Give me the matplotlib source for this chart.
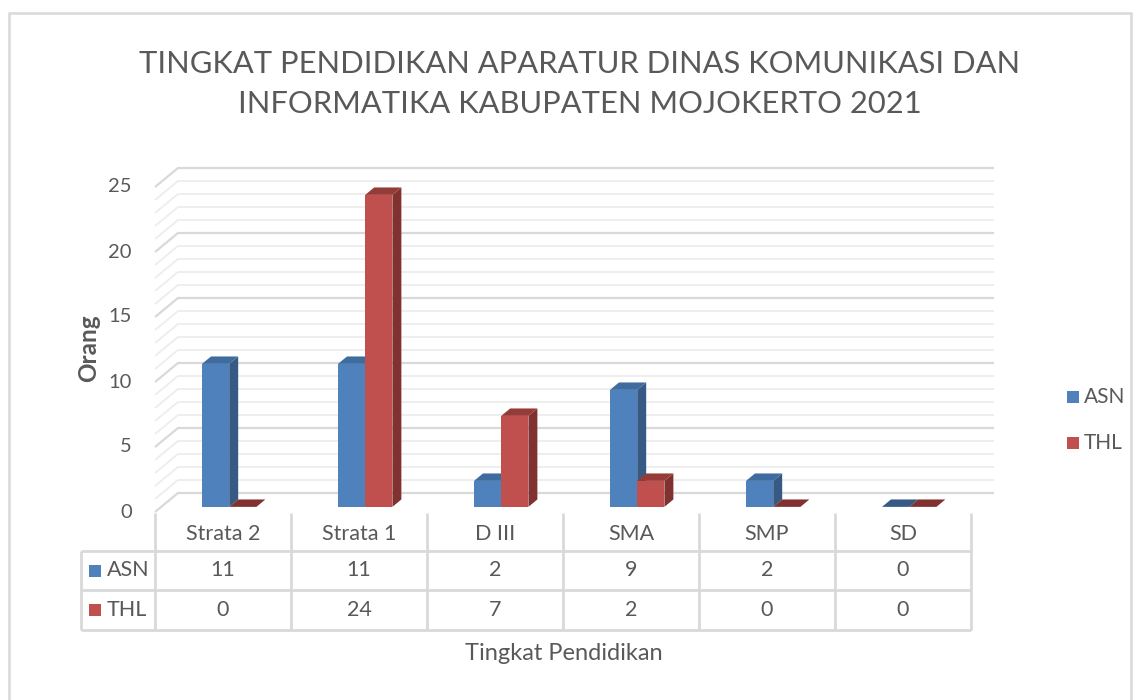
import matplotlib
matplotlib.use("Agg")
import matplotlib.pyplot as plt
from matplotlib.patches import Polygon, Rectangle
from matplotlib.transforms import blended_transform_factory

# ---------------- data ----------------
categories = ["Strata 2", "Strata 1", "D III", "SMA", "SMP", "SD"]
series_names = ["ASN", "THL"]
asn = [11, 11, 2, 9, 2, 0]
thl = [0, 24, 7, 2, 0, 0]
y_ticks = [0, 5, 10, 15, 20, 25]
title = "TINGKAT PENDIDIKAN APARATUR DINAS KOMUNIKASI DAN\nINFORMATIKA KABUPATEN MOJOKERTO 2021"
x_title = "Tingkat Pendidikan"
y_title = "Orang"

# ---------------- style ----------------
FONT = ["Lato", "DejaVu Sans"]
TXT = "#595959"
front_cols = ["#4F81BD", "#C0504D"]
side_cols = ["#375A84", "#803130"]
top_cols = ["#3F6C9F", "#953B38"]
GRID_MAJ = "#D9D9D9"
GRID_MIN = "#EDEDED"

W, H = 1140, 700
fig = plt.figure(figsize=(W / 100, H / 100), dpi=100)
fig.patch.set_facecolor("white")
ax = fig.add_axes([0, 0, 1, 1])
ax.axis("off")

# layout (pixels) -> data scale
X0_PX, CW_PX = 155.0, 136.0     # left of plot floor, width of one category
Y0_PX, U_PX = 512.0, 13.0       # front floor line, pixels per unit
ax.set_xlim(-X0_PX / CW_PX, (W - X0_PX) / CW_PX)
ax.set_ylim((Y0_PX - H) / U_PX, Y0_PX / U_PX)

DDX = 23.0 / CW_PX   # depth offset in x data units (full depth)
DDY = 19.0 / U_PX    # depth offset in y data units
n = len(categories)
ymax = 25

# ---- gridlines on side wall + back wall ----
for v in range(0, ymax + 1):
    major = (v % 5 == 0)
    col = GRID_MAJ if major else GRID_MIN
    lw = 1.6 if major else 1.3
    ax.plot([0, DDX, n + DDX], [v, v + DDY, v + DDY], color=col, lw=lw,
            solid_capstyle="butt", zorder=1 if major else 0.5)

# ---- 3D bars ----
bw = 0.2           # bar width in category units
d0, d1 = 0.27, 0.66  # depth range of bars
vals = [asn, thl]
for i in range(n):
    for j, sv in enumerate(vals):
        v = sv[i]
        xl = i + 0.5 - bw + j * bw + d0 * DDX
        xr = xl + bw
        yb = d0 * DDY
        yt = v + d0 * DDY
        ex = (d1 - d0) * DDX
        ey = (d1 - d0) * DDY
        z = 3 + i * 2 + j
        if v > 0:
            ax.add_patch(Polygon([(xl, yb), (xr, yb), (xr, yt), (xl, yt)],
                                 closed=True, fc=front_cols[j], ec="none", zorder=z))
            ax.add_patch(Polygon([(xr, yb), (xr + ex, yb + ey), (xr + ex, yt + ey), (xr, yt)],
                                 closed=True, fc=side_cols[j], ec="none", zorder=z))
        ax.add_patch(Polygon([(xl, yt), (xr, yt), (xr + ex, yt + ey), (xl + ex, yt + ey)],
                             closed=True, fc=top_cols[j] if v > 0 else side_cols[j],
                             ec="none", zorder=z))

# ---- y tick labels ----
for t in y_ticks:
    ax.text(-23 / CW_PX, t, str(t), ha="right", va="center", fontsize=14.5,
            color=TXT, family=FONT)

# ---- data table ----
bt = blended_transform_factory(ax.transData, fig.transFigure)
def fy(py):
    return 1 - py / H

row_top, row1, row2, row3 = 513, 551, 590, 630
left_px = 81
tbl_col = "#D9D9D9"
left_x = (left_px - X0_PX) / CW_PX
for k in range(n + 1):
    ax.plot([k, k], [fy(row_top), fy(row3)], color=tbl_col, lw=2, transform=bt,
            solid_capstyle="butt", clip_on=False)
for ry in (row1, row2, row3):
    ax.plot([left_x, n], [fy(ry), fy(ry)], color=tbl_col, lw=2, transform=bt,
            solid_capstyle="butt", clip_on=False)
ax.plot([left_x, left_x], [fy(row1), fy(row3)], color=tbl_col, lw=2, transform=bt,
        solid_capstyle="butt", clip_on=False)

TFS = 15.5
for i, c in enumerate(categories):
    ax.text(i + 0.5, fy((row_top + row1) / 2 + 2), c, ha="center", va="center",
            fontsize=TFS, color=TXT, family=FONT, transform=bt)
for j, (name, sv) in enumerate(zip(series_names, vals)):
    ry = [(row1 + row2) / 2, (row2 + row3) / 2][j]
    for i, v in enumerate(sv):
        ax.text(i + 0.5, fy(ry), str(v), ha="center", va="center",
                fontsize=TFS, color=TXT, family=FONT, transform=bt)
    fig.add_artist(Rectangle((89 / W, fy(ry + 6)), 12 / W, 12 / H,
                             transform=fig.transFigure, fc=front_cols[j], ec="none"))
    fig.text(107 / W, fy(ry), name, ha="left", va="center", fontsize=TFS,
             color=TXT, family=FONT)

# ---- legend (right) ----
for j, name in enumerate(series_names):
    cy = [397, 443][j]
    fig.add_artist(Rectangle((1067 / W, fy(cy + 6)), 12 / W, 12 / H,
                             transform=fig.transFigure, fc=front_cols[j], ec="none"))
    fig.text(1084 / W, fy(cy), name, ha="left", va="center", fontsize=15,
             color=TXT, family=FONT)

# ---- titles ----
fig.text(580 / W, fy(84), title, ha="center", va="center", fontsize=22.2,
         color=TXT, family=FONT, linespacing=1.55)
fig.text(564 / W, fy(653), x_title, ha="center", va="center", fontsize=17,
         color=TXT, family=FONT)
fig.text(89 / W, fy(348), y_title, ha="center", va="center", fontsize=17.5,
         color=TXT, family=FONT, rotation=90, fontweight="bold")

# ---- outer border ----
fig.add_artist(Rectangle((9 / W, fy(720)), (1131 - 9) / W, (720 - 13) / H,
                         transform=fig.transFigure, fc="none", ec="#D9D9D9", lw=1.8))

fig.savefig("out.png", dpi=100, facecolor="white")
